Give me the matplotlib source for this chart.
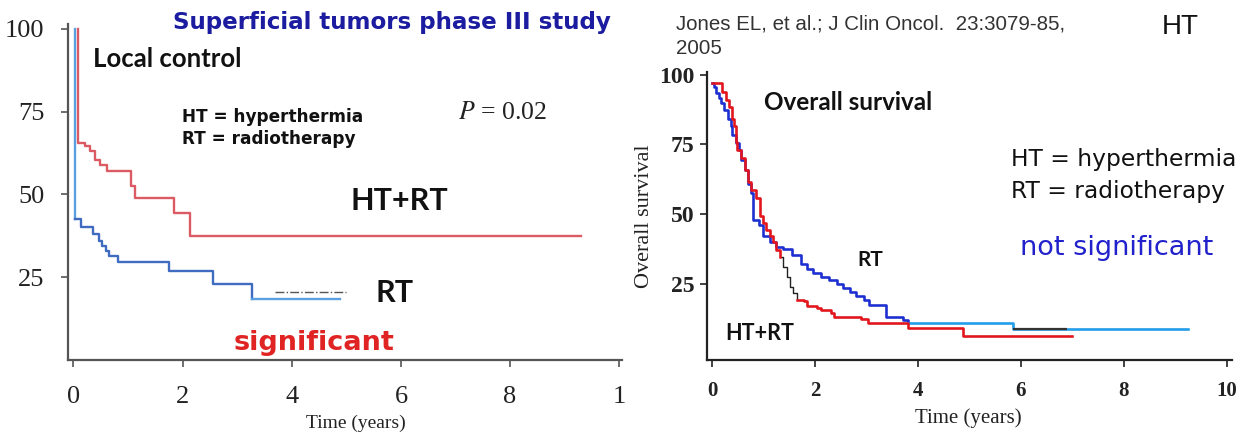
import numpy as np
import matplotlib.pyplot as plt

# left panel: local control, superficial tumors
lc_rt_t = [0.03, 0.03, 0.14, 0.36, 0.47, 0.53, 0.59, 0.66, 0.81, 1.75, 2.55, 3.28, 4.88]
lc_rt_v = [100, 42.5, 40.2, 38, 36, 34.5, 33, 31.5, 29.5, 26.8, 23, 18.3, 18.3]
lc_ht_t = [0.08, 0.08, 0.21, 0.30, 0.39, 0.49, 0.61, 1.06, 1.12, 1.84, 2.14, 9.3]
lc_ht_v = [100, 65.6, 64.6, 63, 60.5, 59, 57, 52.5, 49, 44.5, 37.5, 37.5]
lc_dash_t = [3.7, 5.0]
lc_dash_v = [20.5, 20.5]

# right panel: overall survival
os_rt_t = [0, 0.03, 0.07, 0.13, 0.18, 0.23, 0.30, 0.36, 0.39, 0.46,
           0.53, 0.56, 0.63, 0.69, 0.76, 0.80, 0.92, 0.99, 1.12, 1.25,
           1.38, 1.55, 1.72, 1.84, 1.95, 2.12, 2.28, 2.42, 2.55, 2.68,
           2.80, 2.95, 3.05, 3.37, 3.70, 3.81, 5.84, 9.25]
os_rt_v = [97, 95.5, 93.5, 91.5, 89.8, 87.5, 84, 81.5, 78.5, 75.5,
           73, 69.5, 66, 61, 57.5, 48, 46.2, 42, 40.2, 38.4,
           37.5, 35.5, 32, 30.5, 29, 27.6, 26.5, 25, 23.5, 22,
           20.5, 19.3, 17.3, 13.1, 12.2, 11, 8.7, 8.7]
os_ht_t = [0, 0.20, 0.26, 0.33, 0.39, 0.43, 0.46, 0.49, 0.56, 0.63,
           0.69, 0.76, 0.86, 0.93, 0.99, 1.05, 1.12, 1.18, 1.25, 1.32,
           1.38, 1.45, 1.51, 1.58, 1.64, 1.78, 1.84, 2.04, 2.11, 2.30,
           2.37, 2.89, 3.03, 3.80, 4.88, 7.0]
os_ht_v = [97, 94, 91, 88.6, 84, 81.5, 76, 73, 70, 66,
           61.7, 58.7, 55.7, 49.2, 46.8, 44.4, 42, 40.2, 37.2, 34.8,
           31.2, 27.6, 24, 21.7, 19.3, 18.7, 16.9, 16.3, 15.7, 14.5,
           13.3, 12.5, 10.9, 9.3, 6.3, 6.3]

yticks = [25, 50, 75, 100]
xticks = [0, 2, 4, 6, 8, 10]

plt.rcParams['mathtext.fontset'] = 'stix'

W, H = 1247, 437
fig = plt.figure(figsize=(W / 100, H / 100), dpi=100)

def fx(x):
    return x / W

def fy(y):
    return 1 - y / H

serif = 'Liberation Serif'
arial = 'Liberation Sans'
wide = 'DejaVu Sans'
calibri = 'Lato'

# ---- left panel ----
axl = fig.add_axes([fx(68), fy(360), fx(622) - fx(68), fy(24) - fy(360)])
axl.step(lc_ht_t, lc_ht_v, where='post', color='#dc5a64', lw=1.7)
axl.step(lc_rt_t[:2], lc_rt_v[:2], where='post', color='#5a9fe0', lw=1.7)
axl.step(lc_rt_t[1:12], lc_rt_v[1:12], where='post', color='#3f6cc0', lw=1.7)
axl.step(lc_rt_t[11:], lc_rt_v[11:], where='post', color='#5a9fe0', lw=1.7)
axl.plot(lc_dash_t, lc_dash_v, ls='-.', color='#555555', lw=1.0)
axl.set_xlim(-0.1, 10.05)
axl.set_ylim(0, 101.5)
for s in ['top', 'right']:
    axl.spines[s].set_visible(False)
for s in ['left', 'bottom']:
    axl.spines[s].set_color('#555555')
    axl.spines[s].set_linewidth(1.6)
axl.set_yticks(yticks)
axl.set_xticks(xticks)
axl.set_xticklabels(['0', '2', '4', '6', '8', '1'])
axl.tick_params(direction='out', length=5, width=1.2, color='#555555')
axl.tick_params(axis='y', pad=12)
axl.tick_params(axis='x', pad=14)
for lab in axl.get_xticklabels() + axl.get_yticklabels():
    lab.set_fontfamily(serif)
    lab.set_fontsize(19)
    lab.set_color('#222222')

fig.text(fx(356), fy(423), 'Time (years)', family=serif, fontsize=14,
         ha='center', va='center', color='#222222')
fig.text(fx(173), fy(23), 'Superficial tumors phase III study', family=wide,
         fontweight='bold', fontsize=16.6, color='#1c1ca0', va='center')
fig.text(fx(93), fy(59), 'Local control', family=calibri, fontweight='bold',
         fontsize=18.5, color='#111111', va='center')
fig.text(fx(182), fy(117), 'HT = hyperthermia', family=wide, fontweight='bold',
         fontsize=12.2, color='#111111', va='center')
fig.text(fx(182), fy(139), 'RT = radiotherapy', family=wide, fontweight='bold',
         fontsize=12.2, color='#111111', va='center')
fig.text(fx(458), fy(113), '$P$ = 0.02', family=serif, fontsize=18.5,
         color='#222222', va='center')
fig.text(fx(350), fy(201), 'HT+RT', family=calibri, fontweight='bold',
         fontsize=22, color='#111111', va='center')
fig.text(fx(376), fy(293), 'RT', family=calibri, fontweight='bold',
         fontsize=22, color='#111111', va='center')
fig.text(fx(234), fy(343), 'significant', family=wide, fontweight='bold',
         fontsize=19.5, color='#e02424', va='center')

# ---- right panel ----
axr = fig.add_axes([fx(707), fy(360), fx(1232) - fx(707), fy(72) - fy(360)])
axr.step(os_rt_t, os_rt_v, where='post', color='#222222', lw=1.0)
axr.step(os_ht_t, os_ht_v, where='post', color='#222222', lw=1.0)
axr.step(os_rt_t[:36], os_rt_v[:36], where='post', color='#1c2fd6', lw=1.8)
axr.step(os_rt_t[35:], os_rt_v[35:], where='post', color='#1ea0f0', lw=1.8)
axr.hlines(os_rt_v[-1], 5.84, 6.9, color='#333333', lw=1.6)
axr.step(os_ht_t[:20], os_ht_v[:20], where='post', color='#e8141c', lw=1.8)
axr.step(os_ht_t[24:], os_ht_v[24:], where='post', color='#e8141c', lw=1.8)
axr.set_xlim(-0.1, 10.1)
axr.set_ylim(-2.3, 101)
for s in ['top', 'right']:
    axr.spines[s].set_visible(False)
for s in ['left', 'bottom']:
    axr.spines[s].set_color('#222222')
    axr.spines[s].set_linewidth(1.6)
axr.set_yticks(yticks)
axr.set_xticks(xticks)
axr.tick_params(direction='out', length=5, width=1.2, color='#222222')
axr.tick_params(axis='y', pad=4)
axr.tick_params(axis='x', pad=10)
for lab in axr.get_xticklabels():
    lab.set_fontsize(15)
for lab in axr.get_yticklabels():
    lab.set_fontsize(17)
for lab in axr.get_xticklabels() + axr.get_yticklabels():
    lab.set_fontfamily(serif)
    lab.set_fontweight('bold')
    lab.set_color('#222222')
axr.set_ylabel('Overall survival', family=serif, fontsize=16, color='#222222',
               labelpad=4)
fig.text(fx(968), fy(418), 'Time (years)', family=serif, fontsize=15,
         ha='center', va='center', color='#222222')

fig.text(fx(676), fy(24), 'Jones EL, et al.; J Clin Oncol.  23:3079-85,',
         family=arial, fontsize=14.8, color='#333333', va='center')
fig.text(fx(676), fy(48), '2005', family=arial, fontsize=14.8,
         color='#333333', va='center')
fig.text(fx(1162), fy(27), 'HT', family=arial, fontsize=20,
         color='#111111', va='center')
fig.text(fx(764), fy(102), 'Overall survival', family=calibri,
         fontweight='bold', fontsize=17.5, color='#111111', va='center')
fig.text(fx(1011), fy(160), 'HT = hyperthermia', family=wide, fontsize=16.8,
         color='#111111', va='center')
fig.text(fx(1011), fy(191), 'RT = radiotherapy', family=wide, fontsize=16.8,
         color='#111111', va='center')
fig.text(fx(1020), fy(248), 'not significant', family=wide, fontsize=19.5,
         color='#2222cc', va='center')
fig.text(fx(857), fy(260), 'RT', family=calibri, fontweight='bold',
         fontsize=15, color='#111111', va='center')
fig.text(fx(725), fy(333), 'HT+RT', family=calibri, fontweight='bold',
         fontsize=15.5, color='#111111', va='center')

fig.savefig('out.png', dpi=100, facecolor='white')
